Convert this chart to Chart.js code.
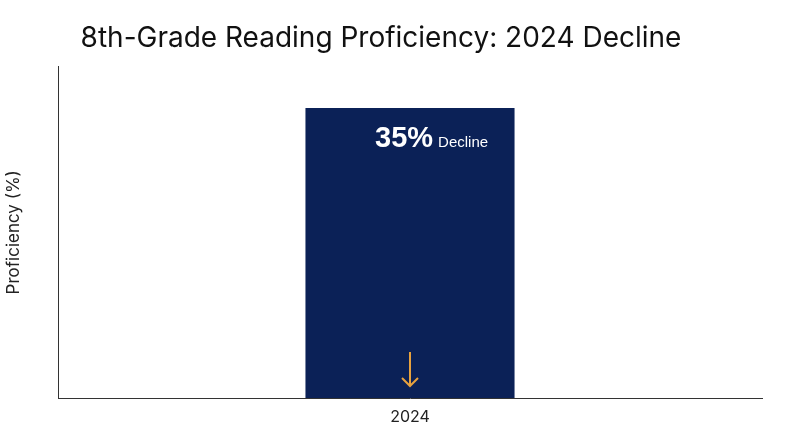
<!DOCTYPE html>
<html><head><meta charset="utf-8">
<script src="https://cdn.jsdelivr.net/npm/chart.js@4"></script>
<style>html,body{margin:0;padding:0;background:#fff}#w{width:800px;height:447px}</style>
</head><body><div id="w"><canvas id="c"></canvas></div>
<script>
const categories = ["2024"];
const proficiency = [35];
const annotationValue = "35%";
const annotationLabel = "Decline";
const yMax = 40;

const annot = {
  id: 'annot',
  afterDatasetsDraw(chart) {
    const bar = chart.getDatasetMeta(0).data[0];
    const ctx = chart.ctx;
    ctx.save();
    ctx.fillStyle = '#ffffff';
    ctx.textBaseline = 'alphabetic';
    ctx.textAlign = 'left';
    ctx.font = 'bold 29px "Liberation Sans", Arial, sans-serif';
    const x0 = bar.x - 35, yb = bar.y + 39;
    ctx.fillText(annotationValue, x0, yb);
    const w = ctx.measureText(annotationValue).width;
    ctx.font = '15px "Liberation Sans", Arial, sans-serif';
    ctx.fillText(annotationLabel, x0 + w + 5, yb);
    // arrow
    const ax = bar.x, base = chart.scales.y.getPixelForValue(0);
    ctx.strokeStyle = '#e8a23e';
    ctx.lineWidth = 2;
    ctx.beginPath();
    ctx.moveTo(ax, base - 46); ctx.lineTo(ax, base - 12);
    ctx.moveTo(ax - 8, base - 20); ctx.lineTo(ax, base - 12); ctx.lineTo(ax + 8, base - 20);
    ctx.stroke();
    ctx.restore();
  }
};

new Chart(document.getElementById('c'), {
  type: 'bar',
  data: { labels: categories, datasets: [{ data: proficiency, backgroundColor: '#0b2157', barPercentage: 0.297, categoryPercentage: 1 }] },
  options: {
    responsive: true, maintainAspectRatio: false, animation: false,
    layout: { padding: { right: 38, left: 0, top: 0, bottom: 0 } },
    plugins: {
      legend: { display: false }, tooltip: { enabled: false },
      title: { display: true, text: '8th-Grade Reading Proficiency: 2024 Decline', color: '#111',
        font: { size: 28, family: 'Inter, "Noto Sans", sans-serif', weight: 'normal' }, padding: { top: 22, bottom: 11 } }
    },
    scales: {
      x: { grid: { display: false, drawTicks: false }, border: { color: '#333', width: 1 },
        ticks: { color: '#222', font: { size: 16, family: 'Inter, sans-serif' }, padding: 10 },
        afterFit(s) { s.height = 49; } },
      y: { min: 0, max: yMax, grid: { display: false, drawTicks: false }, border: { color: '#333', width: 1 },
        ticks: { display: false },
        title: { display: true, text: 'Proficiency (%)', color: '#222', font: { size: 17, family: 'Inter, sans-serif' } },
        afterFit(s) { s.width = 58; } }
    }
  },
  plugins: [annot]
});
</script></body></html>
